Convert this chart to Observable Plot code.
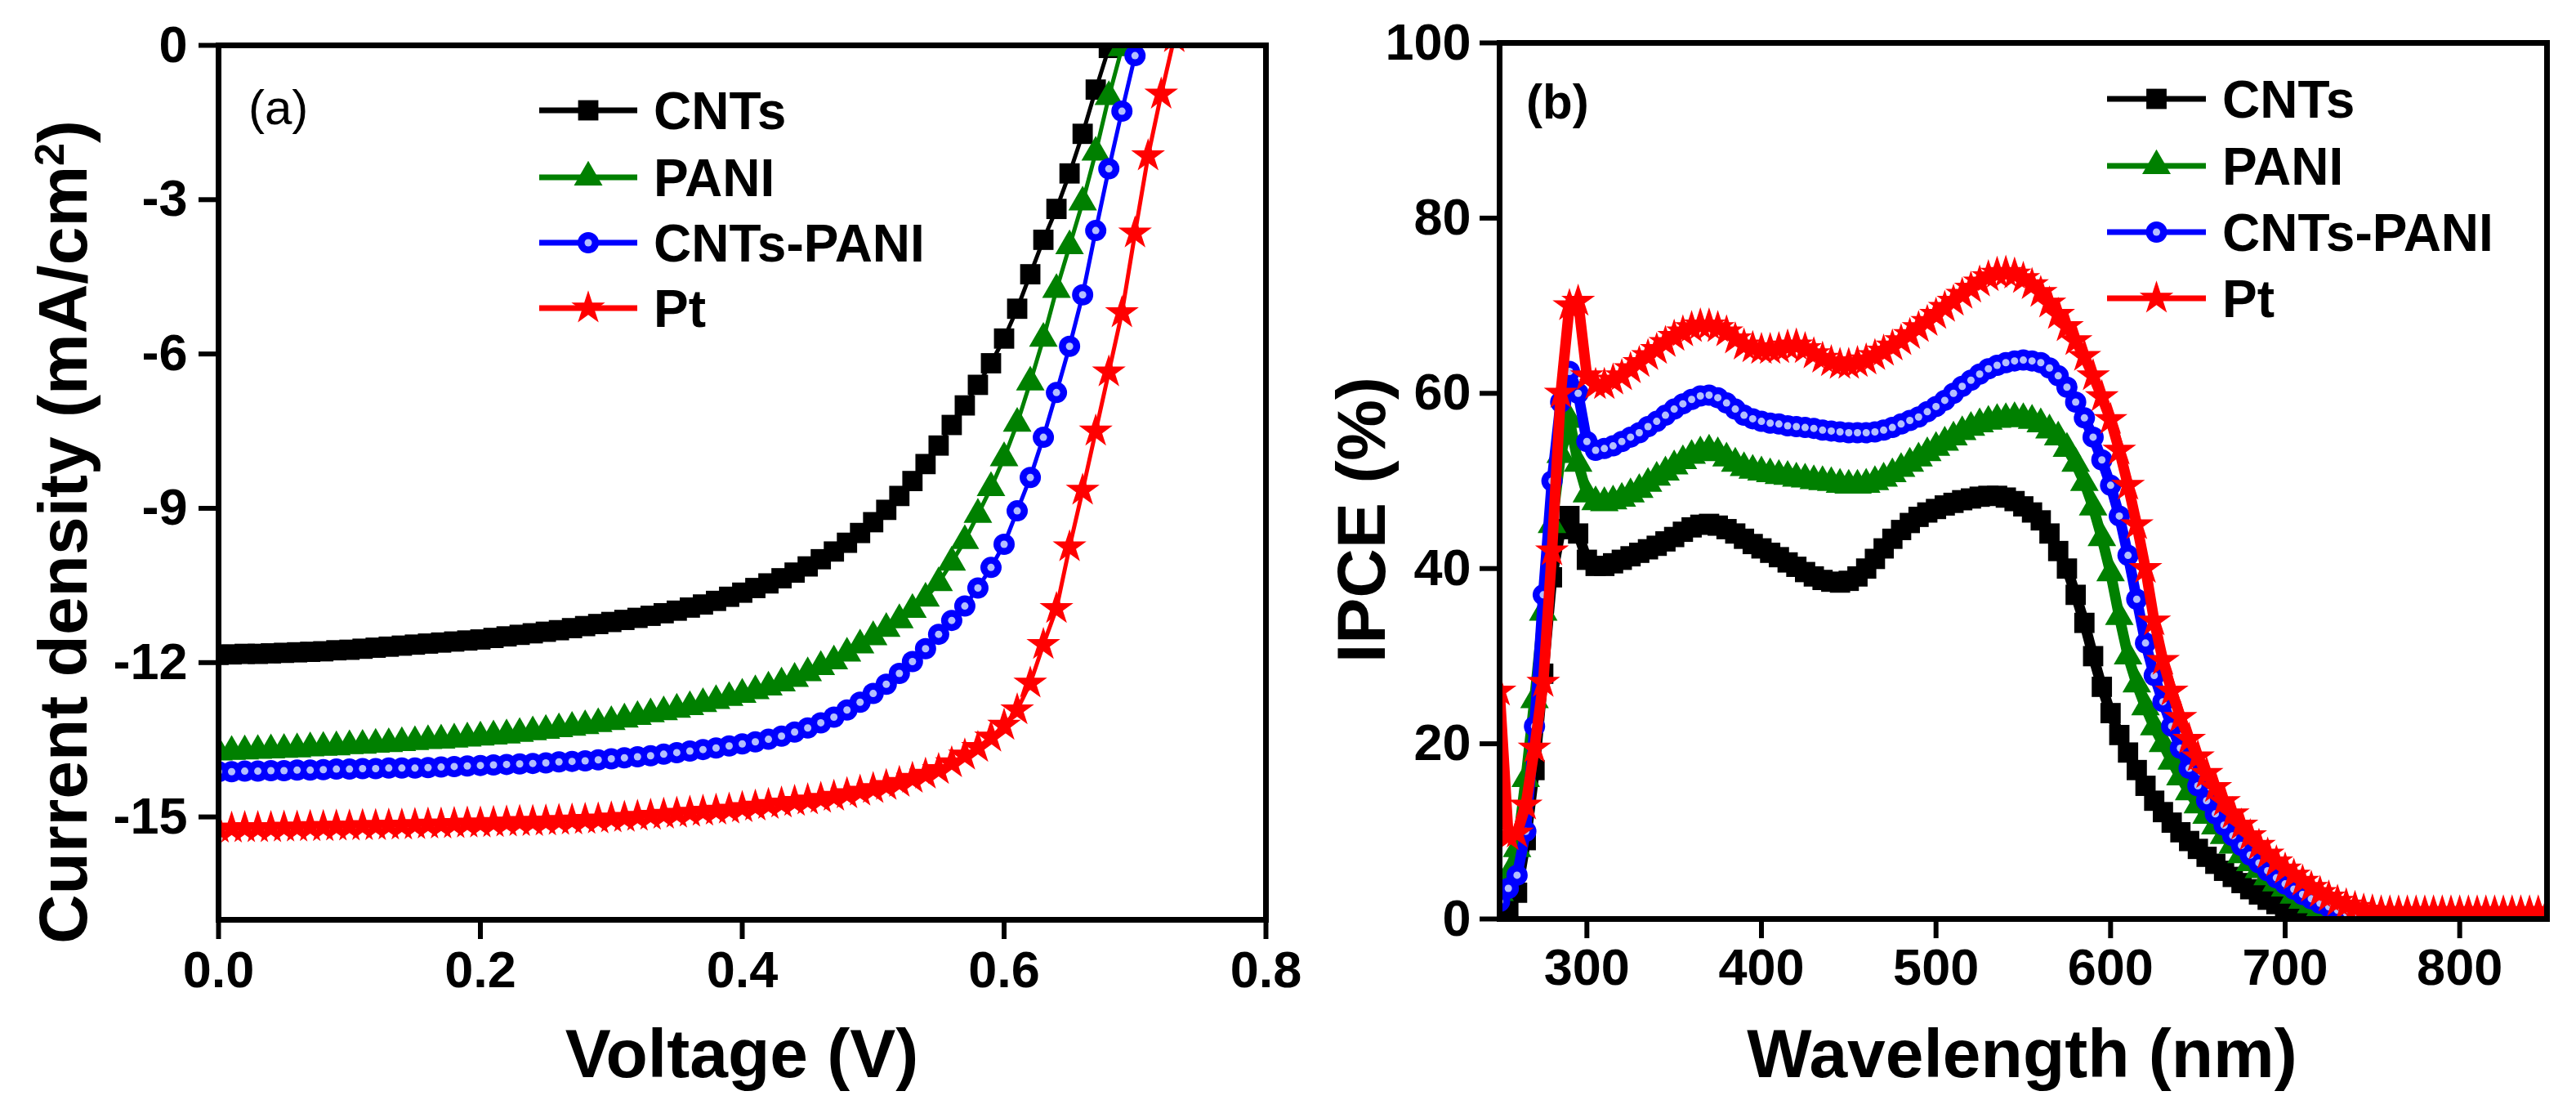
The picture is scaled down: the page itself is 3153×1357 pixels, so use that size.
<!DOCTYPE html>
<html>
<head>
<meta charset="utf-8">
<script src="https://cdn.jsdelivr.net/npm/d3@7"></script>
<script src="https://cdn.jsdelivr.net/npm/@observablehq/plot@0.6"></script>
<style>
  html, body { margin: 0; padding: 0; background: #fff; }
  #wrap { display: flex; width: 3153px; height: 1357px; }
  #wrap > svg { flex: none; overflow: visible; }
  svg text { font-family: "Liberation Sans", Arial, Helvetica, sans-serif; }
</style>
</head>
<body>
<div id="wrap"></div>
<script>
// ---------- (a) J–V curves ----------
const voltage = [
  0.00,0.01,0.02,0.03,0.04,0.05,0.06,0.07,0.08,0.09,
  0.10,0.11,0.12,0.13,0.14,0.15,0.16,0.17,0.18,0.19,
  0.20,0.21,0.22,0.23,0.24,0.25,0.26,0.27,0.28,0.29,
  0.30,0.31,0.32,0.33,0.34,0.35,0.36,0.37,0.38,0.39,
  0.40,0.41,0.42,0.43,0.44,0.45,0.46,0.47,0.48,0.49,
  0.50,0.51,0.52,0.53,0.54,0.55,0.56,0.57,0.58,0.59,
  0.60,0.61,0.62,0.63,0.64,0.65,0.66,0.67,0.68,0.69,
  0.70,0.71,0.72,0.73
];
const jCNTs = [
  -11.85,-11.84,-11.83,-11.83,-11.82,-11.81,-11.80,-11.79,-11.78,-11.76,
  -11.75,-11.73,-11.71,-11.69,-11.67,-11.65,-11.63,-11.61,-11.59,-11.57,
  -11.55,-11.52,-11.49,-11.46,-11.43,-11.40,-11.37,-11.33,-11.29,-11.25,
  -11.21,-11.17,-11.13,-11.09,-11.04,-10.99,-10.93,-10.87,-10.80,-10.72,
  -10.64,-10.55,-10.46,-10.36,-10.25,-10.13,-9.99,-9.84,-9.67,-9.48,
  -9.27,-9.03,-8.76,-8.47,-8.14,-7.78,-7.38,-7.00,-6.60,-6.18,
  -5.70,-5.12,-4.45,-3.78,-3.18,-2.49,-1.72,-0.86,-0.05
];
const jPANI = [
  -13.74,-13.73,-13.72,-13.71,-13.70,-13.69,-13.68,-13.66,-13.65,-13.64,
  -13.62,-13.61,-13.59,-13.58,-13.56,-13.54,-13.52,-13.51,-13.49,-13.47,
  -13.45,-13.43,-13.41,-13.38,-13.35,-13.32,-13.29,-13.26,-13.23,-13.19,
  -13.15,-13.10,-13.05,-13.00,-12.96,-12.91,-12.86,-12.80,-12.74,-12.68,
  -12.62,-12.55,-12.48,-12.40,-12.31,-12.20,-12.08,-11.97,-11.82,-11.66,
  -11.50,-11.34,-11.17,-10.97,-10.75,-10.45,-10.05,-9.63,-9.12,-8.60,
  -8.02,-7.35,-6.55,-5.70,-4.75,-3.90,-3.05,-2.08,-1.00,-0.05
];
const jCNTsPANI = [
  -14.12,-14.12,-14.11,-14.11,-14.10,-14.10,-14.09,-14.09,-14.08,-14.07,
  -14.07,-14.06,-14.06,-14.05,-14.05,-14.05,-14.04,-14.03,-14.02,-14.01,
  -14.00,-13.99,-13.98,-13.97,-13.96,-13.95,-13.93,-13.92,-13.91,-13.89,
  -13.87,-13.85,-13.83,-13.81,-13.78,-13.75,-13.72,-13.69,-13.66,-13.62,
  -13.58,-13.54,-13.49,-13.43,-13.35,-13.27,-13.17,-13.06,-12.92,-12.77,
  -12.60,-12.42,-12.21,-11.98,-11.73,-11.45,-11.18,-10.90,-10.55,-10.15,
  -9.70,-9.05,-8.40,-7.62,-6.75,-5.85,-4.85,-3.60,-2.40,-1.28,
  -0.20
];
const jPt = [
  -15.22,-15.22,-15.21,-15.21,-15.21,-15.20,-15.20,-15.19,-15.19,-15.18,
  -15.18,-15.17,-15.17,-15.16,-15.16,-15.15,-15.14,-15.14,-15.13,-15.12,
  -15.12,-15.11,-15.10,-15.09,-15.09,-15.08,-15.07,-15.06,-15.05,-15.04,
  -15.02,-15.01,-14.99,-14.97,-14.95,-14.93,-14.91,-14.89,-14.87,-14.85,
  -14.82,-14.79,-14.76,-14.73,-14.70,-14.67,-14.64,-14.60,-14.55,-14.50,
  -14.45,-14.39,-14.33,-14.25,-14.17,-14.08,-13.95,-13.80,-13.65,-13.45,
  -13.22,-12.92,-12.40,-11.65,-10.95,-9.75,-8.65,-7.50,-6.35,-5.20,
  -3.65,-2.15,-0.95,0.15
];
const voltageTicks = [0, 0.2, 0.4, 0.6, 0.8];
const currentTicks = [0, -3, -6, -9, -12, -15];

// ---------- (b) IPCE spectra ----------
const wavelength = [
  250,255,260,265,270,275,280,285,290,295,
  300,305,310,315,320,325,330,335,340,345,
  350,355,360,365,370,375,380,385,390,395,
  400,405,410,415,420,425,430,435,440,445,
  450,455,460,465,470,475,480,485,490,495,
  500,505,510,515,520,525,530,535,540,545,
  550,555,560,565,570,575,580,585,590,595,
  600,605,610,615,620,625,630,635,640,645,
  650,655,660,665,670,675,680,685,690,695,
  700,705,710,715,720,725,730,735,740,745,
  750,755,760,765,770,775,780,785,790,795,
  800,805,810,815,820,825,830,835,840,845,
  850
];
const ipceCNTs = [
  0.5,1,3,9,17,28,39,44.5,46,44,
  41,40.3,40.3,40.6,41,41.4,41.8,42.2,42.6,43.1,
  43.6,44.2,44.7,45,45.1,44.9,44.5,44,43.4,42.8,
  42.3,41.8,41.3,40.7,40.2,39.6,39.1,38.7,38.5,38.4,
  38.6,39.1,40,41.1,42.3,43.4,44.4,45.2,45.9,46.4,
  46.8,47.2,47.5,47.8,48,48.2,48.3,48.3,48.1,47.7,
  47.1,46.4,45.5,44,42,40,37,33.8,30,26.5,
  23.5,21,19,17,15.2,13.5,12.2,11,9.9,8.9,
  8,7.1,6.3,5.5,4.8,4.1,3.4,2.8,2.2,1.7,
  1.2,0.9,0.6,0.4,0.3,0.3,0.3,0.3,0.3,0.3,
  0.3,0.3,0.3,0.3,0.3,0.3,0.3,0.3,0.3,0.3,
  0.3,0.3,0.3,0.3,0.3,0.3,0.3,0.3,0.3,0.3,
  0.3
];
const ipcePANI = [
  3,5,8,16,25,35,45,53,57,52,
  48.5,47.6,47.5,47.7,48,48.5,49,49.7,50.4,51,
  51.7,52.3,52.9,53.3,53.5,53.2,52.6,52,51.5,51.2,
  51,50.8,50.6,50.5,50.3,50.2,50,49.9,49.8,49.6,
  49.5,49.5,49.6,49.9,50.3,50.8,51.4,52,52.6,53.2,
  53.8,54.4,55,55.6,56.1,56.5,56.8,57,57.1,57.2,
  57.1,56.9,56.5,55.8,55,53.7,52,49.8,47,43.5,
  39.5,34.5,30,26.8,24.2,21.9,20,18,16.2,14.5,
  13,11.8,10.6,9.5,8.4,7.3,6.4,5.6,4.8,4.1,
  3.5,2.7,2.1,1.6,1.2,0.9,0.6,0.4,0.3,0.3,
  0.3,0.3,0.3,0.3,0.3,0.3,0.3,0.3,0.3,0.3,
  0.3,0.3,0.3,0.3,0.3,0.3,0.3,0.3,0.3,0.3,
  0.3
];
const ipceCNTsPANI = [
  2,3.5,5,10,22,37,50,59,62.5,60,
  54.5,53.5,53.7,54,54.5,55,55.5,56.2,56.8,57.5,
  58.2,58.8,59.3,59.7,59.8,59.5,58.9,58.2,57.5,57.1,
  56.8,56.6,56.5,56.3,56.2,56.1,56,55.8,55.7,55.6,
  55.5,55.5,55.5,55.6,55.8,56.1,56.5,56.9,57.3,57.9,
  58.5,59.2,60,60.8,61.5,62.2,62.8,63.2,63.5,63.7,
  63.8,63.7,63.5,62.9,62,60.7,59,57.2,55,52.4,
  49.5,46,41.5,36.5,31.5,27.8,24.8,22,19.5,17.2,
  15.2,13.5,12,10.7,9.5,8.4,7.3,6.4,5.5,4.7,
  4,3.4,2.8,2.3,1.8,1.4,1,0.7,0.5,0.4,
  0.3,0.3,0.3,0.3,0.3,0.3,0.3,0.3,0.3,0.3,
  0.3,0.3,0.3,0.3,0.3,0.3,0.3,0.3,0.3,0.3,
  0.3
];
const ipcePt = [
  26,9.5,9.8,13,19.5,27,42,60,70,70.5,
  62,61,61,61.5,62,62.8,63.5,64.3,65,65.8,
  66.5,67,67.5,67.8,67.8,67.5,67,66.2,65.5,65.2,
  65,65,65.1,65.4,65.5,65.1,64.5,64,63.6,63.3,
  63.3,63.5,63.8,64.3,64.8,65.4,66,66.7,67.5,68.2,
  69,69.8,70.5,71.3,72,72.7,73.3,73.7,73.8,73.6,
  73.1,72.4,71.5,70.3,69,67.6,66,64.2,62,59.6,
  57,53.5,49.5,45,40,34,29.5,26,23,20.5,
  18.5,16.6,15,13.4,12,10.7,9.5,8.4,7.4,6.5,
  5.7,5,4.3,3.6,3,2.5,2,1.6,1.3,1,
  0.9,0.8,0.8,0.8,0.8,0.8,0.8,0.8,0.8,0.8,
  0.8,0.8,0.8,0.8,0.8,0.8,0.8,0.8,0.8,0.8,
  0.8
];
const wavelengthTicks = [300, 400, 500, 600, 700, 800];
const ipceTicks = [0, 20, 40, 60, 80, 100];

// ---------- shared series styling ----------
const seriesNames = ["CNTs", "PANI", "CNTs-PANI", "Pt"];
const seriesColors = ["#000000", "#008000", "#0000ff", "#ff0000"];
const seriesSymbols = ["square", "triangle", "circle", "star"];
const symbolRadius = {square: 14, triangle: 13, circle: 13, star: 13};
const centreRadius = 4.5;
const centreColor = "#b3beff";
const d3Symbols = {square: d3.symbolSquare, triangle: d3.symbolTriangle, circle: d3.symbolCircle, star: d3.symbolStar};

const FONT = '"Liberation Sans", Arial, Helvetica, sans-serif';

function seriesMarks(rows, xKey, yKey, scale, lineWidth) {
  const marks = [];
  seriesNames.forEach((name, i) => {
    const data = rows.filter(d => d.name === name);
    const sym = seriesSymbols[i];
    marks.push(Plot.line(data, {x: xKey, y: yKey, stroke: seriesColors[i], strokeWidth: lineWidth,
      strokeLinejoin: "round", clip: true}));
    marks.push(Plot.dot(data, {x: xKey, y: yKey, symbol: sym, r: symbolRadius[sym] * scale,
      fill: seriesColors[i], stroke: "none", clip: true}));
    if (sym === "circle") {
      marks.push(Plot.dot(data, {x: xKey, y: yKey, r: centreRadius * scale, fill: centreColor, stroke: "none", clip: true}));
    }
  });
  return marks;
}

function addLegend(svg, lx0, lx1, tx, ys) {
  const g = d3.select(svg).append("g").attr("class", "legend");
  seriesNames.forEach((name, i) => {
    const y = ys[i];
    const sym = seriesSymbols[i];
    const cx = (lx0 + lx1) / 2;
    g.append("line").attr("x1", lx0).attr("x2", lx1).attr("y1", y).attr("y2", y)
      .attr("stroke", seriesColors[i]).attr("stroke-width", 7);
    g.append("path")
      .attr("d", d3.symbol(d3Symbols[sym], Math.PI * symbolRadius[sym] ** 2)())
      .attr("transform", `translate(${cx},${y})`)
      .attr("fill", seriesColors[i]);
    if (sym === "circle") {
      g.append("circle").attr("cx", cx).attr("cy", y).attr("r", centreRadius).attr("fill", centreColor);
    }
    g.append("text").attr("x", tx).attr("y", y).attr("dy", "0.36em")
      .attr("text-anchor", "start")
      .attr("font-size", 64).attr("font-weight", "bold").attr("font-family", FONT)
      .attr("fill", "#000").text(name);
  });
}

function addText(svg, {x, y, text, size, weight = "bold", rotate = 0, anchor = "middle"}) {
  return d3.select(svg).append("text")
    .attr("transform", `translate(${x},${y}) rotate(${rotate})`)
    .attr("text-anchor", anchor).attr("dy", "0.36em")
    .attr("font-size", size).attr("font-weight", weight).attr("font-family", FONT)
    .attr("fill", "#000").text(text);
}

const baseStyle = {fontFamily: FONT, fontSize: "63px", fontWeight: "bold", color: "#000", background: "transparent", overflow: "visible"};

// ---------- panel (a) ----------
const rowsA = [];
[jCNTs, jPANI, jCNTsPANI, jPt].forEach((arr, i) => {
  arr.forEach((j, k) => rowsA.push({name: seriesNames[i], v: voltage[k], j}));
});

const plotA = Plot.plot({
  width: 1576, height: 1357,
  marginLeft: 267, marginRight: 27, marginTop: 55, marginBottom: 232,
  style: baseStyle,
  x: {domain: [0, 0.8]},
  y: {domain: [-17, 0]},
  marks: [
    ...seriesMarks(rowsA, "v", "j", 1, 5),
    Plot.axisX(voltageTicks, {tickSize: 24, tickPadding: 14, tickFormat: d3.format(".1f"), strokeWidth: 6, label: null}),
    Plot.axisY(currentTicks, {tickSize: 24, tickPadding: 14, tickFormat: d => String(d), strokeWidth: 6, label: null}),
    Plot.frame({stroke: "#000", strokeWidth: 7})
  ]
});

addLegend(plotA, 660, 780, 800, [135, 217, 297, 377]);
addText(plotA, {x: 304, y: 130, text: "(a)", size: 60, weight: "normal", anchor: "start"});
addText(plotA, {x: 908, y: 1288, text: "Voltage (V)", size: 84});
{
  const t = addText(plotA, {x: 76, y: 651, text: "", size: 84, rotate: -90});
  t.append("tspan").text("Current density (mA/cm");
  t.append("tspan").attr("baseline-shift", "super").attr("font-size", "60%").text("2");
  t.append("tspan").text(")");
}

// ---------- panel (b) ----------
const rowsB = [];
[ipceCNTs, ipcePANI, ipceCNTsPANI, ipcePt].forEach((arr, i) => {
  arr.forEach((p, k) => rowsB.push({name: seriesNames[i], w: wavelength[k], p}));
});

const plotB = Plot.plot({
  width: 1577, height: 1357,
  marginLeft: 259, marginRight: 36, marginTop: 52, marginBottom: 233,
  style: baseStyle,
  x: {domain: [250, 850]},
  y: {domain: [0, 100]},
  marks: [
    ...seriesMarks(rowsB, "w", "p", 1, 13),
    Plot.axisX(wavelengthTicks, {tickSize: 24, tickPadding: 12, tickFormat: d => String(d), strokeWidth: 6, label: null}),
    Plot.axisY(ipceTicks, {tickSize: 24, tickPadding: 11, tickFormat: d => String(d), strokeWidth: 6, label: null}),
    Plot.frame({stroke: "#000", strokeWidth: 7})
  ]
});

addLegend(plotB, 1003, 1124, 1144, [121, 203, 284, 365]);
addText(plotB, {x: 292, y: 123, text: "(b)", size: 60, weight: "bold", anchor: "start"});
addText(plotB, {x: 899, y: 1288, text: "Wavelength (nm)", size: 84});
addText(plotB, {x: 89, y: 636, text: "IPCE (%)", size: 84, rotate: -90});

document.getElementById("wrap").append(plotA, plotB);
</script>
</body>
</html>
